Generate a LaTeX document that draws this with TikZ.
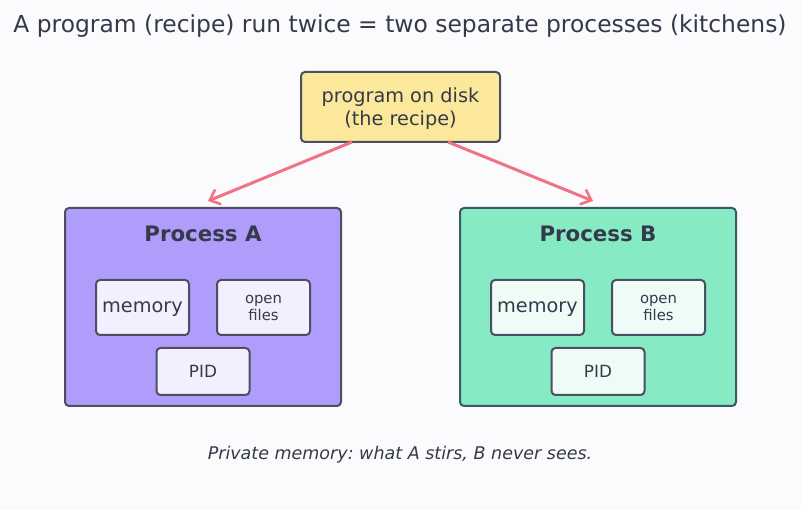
\documentclass[tikz,border=0pt]{standalone}
\usepackage{fontspec}
\setmainfont{DejaVu Sans}
\usepackage{tikz}
\usetikzlibrary{arrows.meta,positioning}
\definecolor{bgcol}{HTML}{FBFBFD}
\definecolor{inkcol}{HTML}{343A4A}
\definecolor{edgecol}{HTML}{4A5060}
\definecolor{diskcol}{HTML}{FCE89A}
\definecolor{acol}{HTML}{B09CFA}
\definecolor{bcol}{HTML}{86EAC4}
\definecolor{ainner}{HTML}{F3EFFE}
\definecolor{binner}{HTML}{EEFBF6}
\definecolor{arrowcol}{HTML}{F07284}
\frenchspacing

\begin{document}
\begin{tikzpicture}[x=1pt, y=-1pt, line width=2pt, text=inkcol]
   \fill[bgcol] (0,0) rectangle (801,510);
   \useasboundingbox (0,0) rectangle (801,510);
   \node (title) [font=\fontsize{23.4}{27}\selectfont] at (400,26.5) {A program (recipe) run twice = two separate processes (kitchens)};
   \begin{scope}[every node/.style={draw=edgecol, rounded corners=4pt, inner sep=0pt}]
    \node (disk) [fill=diskcol, minimum width=199pt, minimum height=70pt, align=center, text height=40.2pt,
        font=\fontsize{19.3}{22.5}\selectfont] at (400.5,107) {program on disk\\(the recipe)};
    \node (procA) [fill=acol, minimum width=276pt, minimum height=198pt] at (203,307) {};
    \node (procB) [fill=bcol, minimum width=276pt, minimum height=198pt, draw=edgecol!80!teal] at (598,307) {};
   \end{scope}
   \node (labA) [font=\fontsize{21.3}{25}\selectfont\bfseries] at (203,234) {Process A};
   \node (labB) [font=\fontsize{21.3}{25}\selectfont\bfseries] at (598,234) {Process B};
   \begin{scope}[every node/.style={draw=edgecol, rounded corners=4pt, inner sep=0pt, minimum width=93pt, align=center}]
    \node (memA) [fill=ainner, minimum height=55pt, text height=10.6pt, text depth=0pt, font=\fontsize{19.3}{22}\selectfont] at (142.5,307.5) {memory};
    \node (filesA) [fill=ainner, minimum height=55pt, text height=27.1pt, font=\fontsize{14.8}{17}\selectfont] at (263.5,307.5) {open\\files};
    \node (pidA) [fill=ainner, minimum height=47pt, font=\fontsize{16.8}{19}\selectfont] at (203,371.5) {PID};
    \node (memB) [fill=binner, minimum height=55pt, text height=10.6pt, text depth=0pt, font=\fontsize{19.3}{22}\selectfont] at (537.5,307.5) {memory};
    \node (filesB) [fill=binner, minimum height=55pt, text height=27.1pt, font=\fontsize{14.8}{17}\selectfont] at (658.5,307.5) {open\\files};
    \node (pidB) [fill=binner, minimum height=47pt, font=\fontsize{16.8}{19}\selectfont] at (598,371.5) {PID};
   \end{scope}
   \node (caption) [font=\fontsize{17.5}{20}\selectfont\itshape] at (400,455) {Private memory: what A stirs, B never sees.};
   % arrows from the recipe to each kitchen
   \coordinate (outA) at (352,142);
   \coordinate (outB) at (448,142);
   \coordinate (inA) at (208,201);
   \coordinate (inB) at (593,201);
   \begin{scope}[-{Straight Barb[length=9pt, width=16pt, line width=2.6pt]}, arrowcol, line width=3pt]
    \draw (outA) -- (inA);
    \draw (outB) -- (inB);
   \end{scope}
\end{tikzpicture}
\end{document}
